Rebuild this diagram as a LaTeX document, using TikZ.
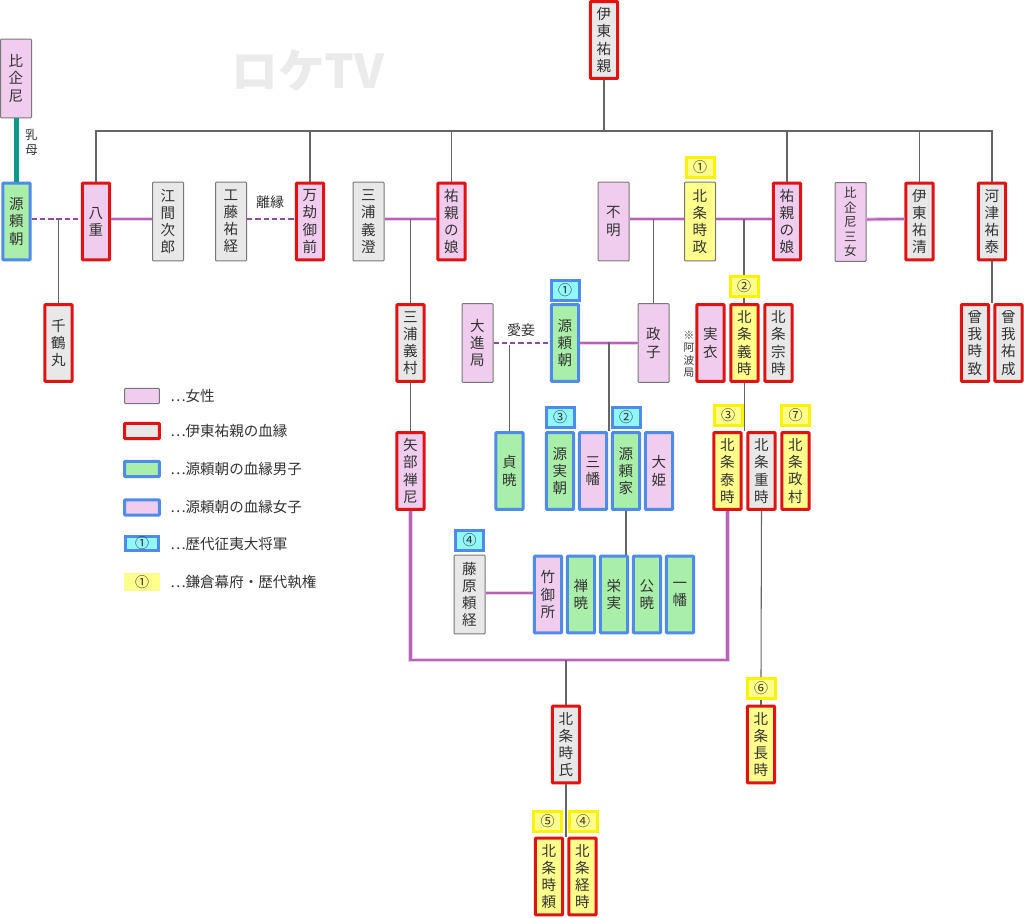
\documentclass[tikz,border=0pt]{standalone}
\usepackage{fontspec}
\setmainfont{Noto Sans CJK JP}
\usepackage{xcolor}
\usetikzlibrary{calc}
\definecolor{femalefill}{HTML}{F0CDEE}
\definecolor{malefill}{HTML}{E8E8E8}
\definecolor{greenfill}{HTML}{A9EFA9}
\definecolor{yellowfill}{HTML}{FFFF8C}
\definecolor{cyanfill}{HTML}{90F8F8}
\definecolor{bloodred}{HTML}{E01212}
\definecolor{bloodblue}{HTML}{4F8BE8}
\definecolor{plainedge}{HTML}{777777}
\definecolor{inktext}{HTML}{333333}
\definecolor{marryline}{HTML}{B862B8}
\definecolor{marryhalo}{HTML}{E8D0E8}
\definecolor{affairline}{HTML}{8F4A9F}
\definecolor{nurseline}{HTML}{0A9A85}
\newcommand{\personfont}{\fontsize{10.9}{12.9}\selectfont}
\tikzstyle{person} = [rectangle, draw, text width=20pt, text centered, inner sep=0pt,
rounded corners=0.6pt, text=inktext, font=\personfont, node distance=24.75pt]
\tikzstyle{plain} = [person, draw=plainedge, line width=0.75pt, minimum width=23.25pt, minimum height=59pt]
\tikzstyle{bold} = [person, line width=2.25pt, minimum width=20.5pt, minimum height=57.5pt]
\tikzstyle{plainmale} = [plain, fill=malefill]
\tikzstyle{plainfemale} = [plain, fill=femalefill]
\tikzstyle{plainregent} = [plain, fill=yellowfill]
\tikzstyle{redmale} = [bold, draw=bloodred, fill=malefill]
\tikzstyle{redfemale} = [bold, draw=bloodred, fill=femalefill]
\tikzstyle{redregent} = [bold, draw=bloodred, fill=yellowfill]
\tikzstyle{blueson} = [bold, draw=bloodblue, fill=greenfill]
\tikzstyle{bluedaughter} = [bold, draw=bloodblue, fill=femalefill]
\tikzstyle{badge} = [rectangle, inner sep=0pt, line width=2.25pt, minimum width=21pt, minimum height=15pt,
text=inktext, font=\fontsize{10.5}{12}\selectfont]
\tikzstyle{shogun} = [badge, draw=bloodblue, fill=cyanfill]
\tikzstyle{regent} = [badge, draw=yellow, fill=yellowfill]
\tikzstyle{swatch} = [minimum width=26pt, minimum height=11.5pt, text width=24pt]
\tikzstyle{legendtext} = [anchor=west, inner sep=0pt, text=inktext, font=\fontsize{10.9}{13}\selectfont]
\tikzstyle{note} = [inner sep=0pt, text=inktext, align=center, font=\fontsize{10.5}{13}\selectfont]
\tikzstyle{line} = [draw=plainedge!85!black, line width=0.8pt]
\tikzstyle{marry} = [draw=marryline, line width=1.6pt, preaction={draw=marryhalo, line width=3.2pt}]
\tikzstyle{affair} = [draw=affairline, line width=1.8pt, dash pattern=on 4pt off 2.2pt]
\tikzstyle{nurse} = [draw=nurseline, line width=3.75pt]
\begin{document}
\begin{tikzpicture}[x=0.75pt, y=-0.75pt]
	\useasboundingbox (0,0) rectangle (1024,917);
	\node [inner sep=0pt, text=black!8, font=\fontsize{35}{40}\selectfont\bfseries] (stamp) at (308,71) {ロケTV};
	% Place nodes
	\coordinate (bus) at (604,131);
	\coordinate (tie) at (0,219);
	\coordinate (frame) at (0,660);
	\coordinate (yoriTie) at (609,342);
	\coordinate (yoriFoot) at (609,431);
	\node [redmale] (sukechika) at (604,40) {伊\\東\\祐\\親};
	\node [plainfemale] (hikiama) at (16,78.5) {比\\企\\尼};
	\node [blueson] (yoritomoL) at (16.5,221.5) {源\\頼\\朝};
	\node [redfemale] (yae) at (96,221.5) {八\\重};
	\node [plainmale] (ema) at (168,221.5) {江\\間\\次\\郎};
	\node [plainmale] (kudo) at (231,221.5) {工\\藤\\祐\\経};
	\node [redfemale] (mango) at (310,221.5) {万\\劫\\御\\前};
	\node [plainmale] (yoshizumi) at (368.5,221.5) {三\\浦\\義\\澄};
	\node [redfemale] (musumeA) at (451.5,221.5) {祐\\親\\の\\娘};
	\node [plainfemale] (fumei) at (613.5,221.5) {不\\明};
	\node [plainregent] (tokimasa) at (700,221.5) {北\\条\\時\\政};
	\node [redfemale] (musumeB) at (787,221.5) {祐\\親\\の\\娘};
	\node [plainfemale, font=\fontsize{9.4}{10.9}\selectfont] (sanjo) at (850.5,222) {比\\企\\尼\\三\\女};
	\node [redmale] (sukekiyo) at (919.5,221.5) {伊\\東\\祐\\清};
	\node [redmale] (sukeyasu) at (992,221.5) {河\\津\\祐\\泰};
	%
	\node [redmale] (senzuru) at (58.5,343) {千\\鶴\\丸};
	\node [redmale] (yoshimura) at (410.5,343) {三\\浦\\義\\村};
	\node [plainfemale] (daishin) at (477.5,343) {大\\進\\局};
	\node [blueson] (yoritomoR) at (565,343) {源\\頼\\朝};
	\node [plainfemale] (masako) at (653.5,343) {政\\子};
	\node [redfemale] (nuinu) at (710.5,343) {実\\衣};
	\node [redregent] (yoshitoki) at (744.5,343) {北\\条\\義\\時};
	\node [redmale] (munetoki) at (778.5,343) {北\\条\\宗\\時};
	\node [redmale] (tokimune) at (975,343) {曾\\我\\時\\致};
	\node [redmale] (sukenari) at (1008.5,343) {曾\\我\\祐\\成};
	\node [note, font=\fontsize{8}{9.2}\selectfont] (awa) at (689,354.5) {※\\阿\\波\\局};
	%
	\node [redfemale] (yabe) at (410.5,471) {矢\\部\\禅\\尼};
	\node [blueson] (teigyo) at (509.5,471) {貞\\暁};
	\node [blueson] (sanetomo) at (560,471) {源\\実\\朝};
	\node [bluedaughter, right of=sanetomo] (sanman) {三\\幡};
	\node [blueson, right of=sanman] (yoriie) {源\\頼\\家};
	\node [bluedaughter, right of=yoriie] (ohime) {大\\姫};
	\node [redregent] (yasutoki) at (727.5,471) {北\\条\\泰\\時};
	\node [redmale] (shigetoki) at (761.5,471) {北\\条\\重\\時};
	\node [redregent] (masamura) at (795.5,471) {北\\条\\政\\村};
	%
	\node [plainmale] (yoritsune) at (469.5,594.5) {藤\\原\\頼\\経};
	\node [bluedaughter] (take) at (548,594.5) {竹\\御\\所};
	\node [blueson, right of=take] (zengyo) {禅\\暁};
	\node [blueson, right of=zengyo] (eijitsu) {栄\\実};
	\node [blueson, right of=eijitsu] (kugyo) {公\\暁};
	\node [blueson, right of=kugyo] (ichiman) {一\\幡};
	%
	\node [redmale] (tokiuji) at (566,744.5) {北\\条\\時\\氏};
	\node [redregent] (nagatoki) at (761,744.5) {北\\条\\長\\時};
	\node [redregent] (tokiyori) at (549,876.5) {北\\条\\時\\頼};
	\node [redregent] (tsunetoki) at (582.5,876.5) {北\\条\\経\\時};
	% Place badges
	\node [regent] (tagTokimasa) at (700,167) {①};
	\node [shogun] (tagYoritomo) at (565,290) {①};
	\node [regent] (tagYoshitoki) at (744,286.5) {②};
	\node [shogun] (tagSanetomo) at (560,417) {③};
	\node [shogun] (tagYoriie) at (626,417.5) {②};
	\node [regent] (tagYasutoki) at (728,415.5) {③};
	\node [regent] (tagMasamura) at (795.5,415) {⑦};
	\node [shogun] (tagYoritsune) at (469.5,540) {④};
	\node [regent] (tagNagatoki) at (761,688.5) {⑥};
	\node [regent] (tagTokiyori) at (547.5,821) {⑤};
	\node [regent] (tagTsunetoki) at (583,821) {④};
	%
	\path [line] (sukechika.south) -- (bus);
	\path [line] (yae.north) -- (yae.north |- bus) -- (sukeyasu.north |- bus) -- (sukeyasu.north);
	\path [line] (mango.north) -- (mango.north |- bus);
	\path [line] (musumeA.north) -- (musumeA.north |- bus);
	\path [line] (musumeB.north) -- (musumeB.north |- bus);
	\path [line] (sukekiyo.north) -- (sukekiyo.north |- bus);
	\path [line] (sukeyasu.south) -- (sukeyasu.south |- tokimune.north);
	\path [nurse] (hikiama.south) -- (hikiama.south |- yoritomoL.north);
	\path [affair] ([yshift=1.9pt]yoritomoL.east) -- ([yshift=1.9pt]yae.west);
	\path [line] (senzuru.north) -- (senzuru.north |- tie);
	\path [marry] ([yshift=1.9pt]yae.east) -- ([yshift=1.9pt]ema.west);
	\path [affair] ([yshift=1.9pt]kudo.east) -- ([yshift=1.9pt]mango.west);
	\path [marry] ([yshift=1.9pt]yoshizumi.east) -- ([yshift=1.9pt]musumeA.west);
	\path [line] (yoshimura.north) -- (yoshimura.north |- tie);
	\path [line] (yoshimura.south) -- (yabe.north);
	\path [marry] ([yshift=1.9pt]fumei.east) -- ([yshift=1.9pt]tokimasa.west);
	\path [line] (masako.north) -- (masako.north |- tie);
	\path [marry] ([yshift=1.9pt]tokimasa.east) -- ([yshift=1.9pt]musumeB.west);
	\path [line] (tagYoshitoki.north) -- (tagYoshitoki.north |- tie);
	\path [line] (tagYoshitoki.south) -- (tagYoshitoki.south |- yoshitoki.north);
	\path [line] (yoshitoki.south) -- (yoshitoki.south |- shigetoki.north);
	\path [marry] ([yshift=1.9pt]sanjo.east) -- ([yshift=1.9pt]sukekiyo.west);
	%
	\path [affair] (daishin.east) -- (yoritomoR.west);
	\path [line] (teigyo.north) -- ($(teigyo.north |- yoriTie)+(0,3)$);
	\path [marry] (yoritomoR.east) -- (masako.west);
	\path [line] (yoriTie) -- (yoriFoot);
	\path [line] (yoriie.south) -- (yoriie.south |- eijitsu.north);
	\path [marry] ([yshift=1.4pt]yoritsune.east) -- ([yshift=1.4pt]take.west);
	\path [marry] (yabe.south) -- (yabe.south |- frame) -- (yasutoki.south |- frame) -- (yasutoki.south);
	\path [line] (tokiuji.north) -- (tokiuji.north |- frame);
	\path [line] (tokiuji.south) -- (tokiuji.south |- tokiyori.north);
	\path [line] (shigetoki.south) -- (tagNagatoki.north);
	\path [line] (tagNagatoki.south) -- (nagatoki.north);
	% Place labels
	\node [note, font=\fontsize{9.3}{11.2}\selectfont] (menoto) at (31.5,142.5) {乳\\母};
	\node [note] (rien) at (270,202) {離縁};
	\node [note] (aisho) at (521,330) {愛妾};
	% Legend
	\node [plainfemale, swatch] (keyFemale) at (142,396) {};
	\node [redmale, swatch] (keyBlood) at (142,431) {};
	\node [blueson, swatch] (keySon) at (142,469) {};
	\node [bluedaughter, swatch] (keyDaughter) at (142,507.5) {};
	\node [shogun, minimum width=25pt, minimum height=11pt] (keyShogun) at (142,543.5) {①};
	\node [regent, draw=none, minimum width=27pt, minimum height=13.5pt] (keyRegent) at (142,582) {①};
	\node [legendtext] (textFemale) at (170,396) {…女性};
	\node [legendtext] (textBlood) at (170,431) {…伊東祐親の血縁};
	\node [legendtext] (textSon) at (170,469) {…源頼朝の血縁男子};
	\node [legendtext] (textDaughter) at (170,507.5) {…源頼朝の血縁女子};
	\node [legendtext] (textShogun) at (170,543.5) {…歴代征夷大将軍};
	\node [legendtext] (textRegent) at (170,582) {…鎌倉幕府・歴代執権};
\end{tikzpicture}
\end{document}
